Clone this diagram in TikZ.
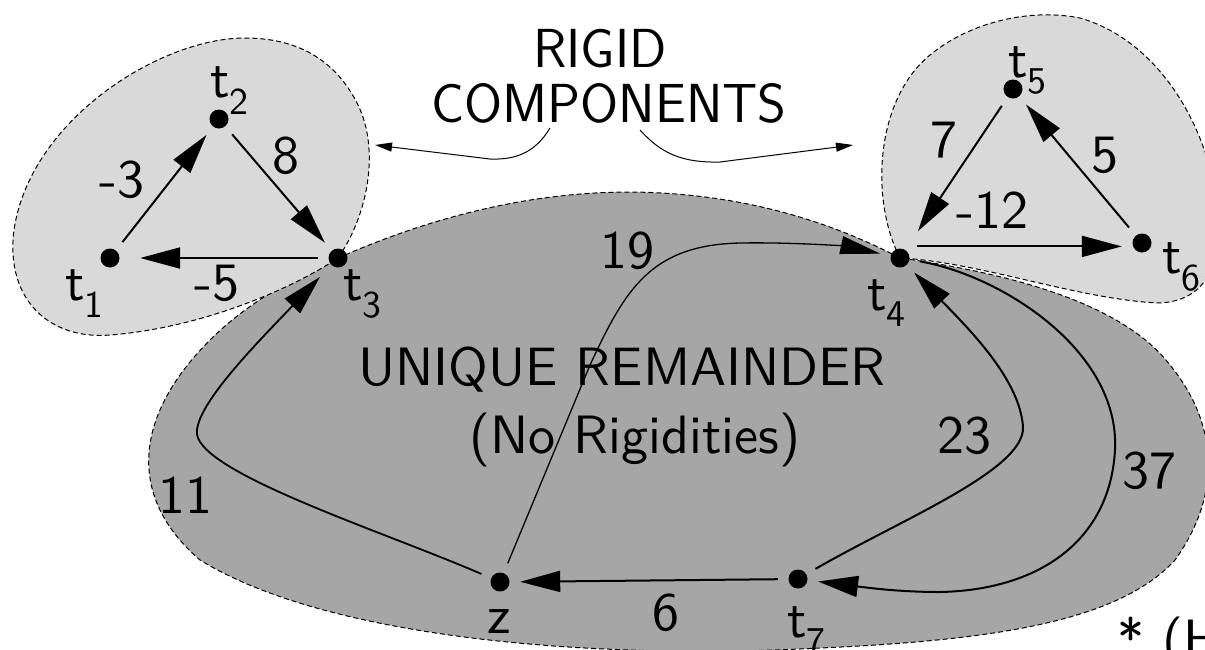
\documentclass[tikz,border=0pt]{standalone}
\usepackage{fontspec}
\setsansfont{lmsans10-regular}[Extension=.otf]
\newfontfamily\captionfont{lmsans17-regular}[Extension=.otf]
\usetikzlibrary{arrows.meta}
\definecolor{lightblob}{RGB}{217,217,217}
\definecolor{darkblob}{RGB}{166,166,166}
\begin{document}
\begin{tikzpicture}[x=1pt,y=-1pt,
  vtx/.style={circle,minimum size=40pt,inner sep=0pt,
    path picture={\fill[black] (path picture bounding box.center) circle (9.5pt);}},
  lbl/.style={inner sep=0pt,anchor=base,font=\sffamily\fontsize{54}{60}\selectfont},
  vlbl/.style={inner sep=0pt,anchor=base west,font=\sffamily\fontsize{54}{60}\selectfont},
  captiontext/.style={inner sep=0pt,anchor=base,font=\captionfont\fontsize{55}{60}\selectfont},
  blob/.style={draw=black,dash pattern=on 5pt off 3pt,line width=1pt},
  edge/.style={line width=2pt,-{Triangle[length=40pt,width=21pt]}},
  thinedge/.style={line width=1.3pt,-{Triangle[length=40pt,width=18pt]}},
  pointer/.style={line width=1pt,-{Triangle[length=17pt,width=9pt]}}
]
\useasboundingbox (0,0) rectangle (1205,649);

% positions of the vertices
\coordinate (p1) at (110,258);
\coordinate (p2) at (219,119);
\coordinate (p3) at (338,258);
\coordinate (p4) at (900,258);
\coordinate (p5) at (1013,89);
\coordinate (p6) at (1142,243);
\coordinate (p7) at (798,579);
\coordinate (pz) at (500,582);

% unique remainder region
\path[blob,fill=darkblob] (p3) .. controls (420,222) and (520,192) .. (630,192)
  .. controls (760,193) and (850,232) .. (p4)
  .. controls (1000,272) and (1120,300) .. (1170,365)
  .. controls (1215,420) and (1225,490) .. (1175,560)
  .. controls (1120,620) and (1000,640) .. (820,648)
  .. controls (600,660) and (330,640) .. (200,560)
  .. controls (130,500) and (130,420) .. (210,340)
  .. controls (250,300) and (300,275) .. (p3);

% rigid component, left
\path[blob,fill=lightblob] (p3) .. controls (368,215) and (380,150) .. (358,105)
  .. controls (335,58) and (295,38) .. (245,38)
  .. controls (160,38) and (30,120) .. (14,230)
  .. controls (5,300) and (50,340) .. (110,335)
  .. controls (200,328) and (290,290) .. (p3);

% rigid component, right
\path[blob,fill=lightblob] (p4) .. controls (870,200) and (875,100) .. (930,55)
  .. controls (970,22) and (1030,8) .. (1080,18)
  .. controls (1150,38) and (1200,110) .. (1215,190)
  .. controls (1225,260) and (1210,300) .. (1160,303)
  .. controls (1080,300) and (980,262) .. (p4);

% vertices
\node[vtx] (t1) at (p1) {};
\node[vtx] (t2) at (p2) {};
\node[vtx] (t3) at (p3) {};
\node[vtx] (t4) at (p4) {};
\node[vtx] (t5) at (p5) {};
\node[vtx] (t6) at (p6) {};
\node[vtx] (t7) at (p7) {};
\node[vtx] (z) at (pz) {};

% vertex labels
\node[vlbl] (l1) at (65,300) {t\textsubscript{1}};
\node[vlbl] (l2) at (210,97) {t\textsubscript{2}};
\node[vlbl] (l3) at (343,300) {t\textsubscript{3}};
\node[vlbl] (l4) at (867,310) {t\textsubscript{4}};
\node[vlbl] (l5) at (1008,77) {t\textsubscript{5}};
\node[vlbl] (l6) at (1162,273) {t\textsubscript{6}};
\node[vlbl] (l7) at (787,637) {t\textsubscript{7}};
\node[lbl] (lz) at (499,633) {z};

% edges
\draw[edge] (t1) -- (t2);
\draw[edge] (t2) -- (t3);
\draw[edge,shorten >=10pt] (t3) -- (t1);
\draw[edge,shorten >=12pt] (t5) -- (t4);
\draw[edge] (t6) -- (t5);
\draw[edge] (t4.35) -- (t4.35 -| t6.west);
\draw[edge] (t7) -- (z);
\draw[edge,line width=1.8pt,shorten >=6pt] (z) .. controls (380,530) and (190,470) .. (197,430)
  .. controls (200,400) and (260,340) .. (t3);
\draw[thinedge] (z) -- (590,365) .. controls (625,290) and (650,245) .. (740,243)
  .. controls (800,242) and (850,247) .. (t4);
\draw[edge] (t7) .. controls (900,520) and (1025,470) .. (1023,427)
  .. controls (1020,380) and (970,330) .. (t4);
\draw[edge] (t4) .. controls (1000,275) and (1120,350) .. (1115,450)
  .. controls (1110,540) and (1040,590) .. (940,592)
  .. controls (900,592) and (870,588) .. (t7);

% edge weights
\node[lbl] (w1) at (122,197) {-3};
\node[lbl] (w2) at (286,173) {8};
\node[lbl] (w3) at (217,300) {-5};
\node[lbl] (w4) at (944,157) {7};
\node[lbl] (w5) at (1105,172) {5};
\node[lbl] (w6) at (992,228) {-12};
\node[lbl] (w7) at (627,268) {19};
\node[lbl] (w8) at (964,453) {23};
\node[lbl] (w9) at (666,630) {6};
\node[lbl] (w10) at (185,513) {11};
\node[lbl] (w11) at (1149,488) {37};

% region captions
\node[captiontext] (rigid) at (600,67) {RIGID};
\node[captiontext] (comp) at (609,122) {COMPONENTS};
\node[lbl] (uniq) at (622,385) {UNIQUE REMAINDER};
\node[lbl] (norig) at (635,453) {(No Rigidities)};
\node[vlbl] (note) at (1117,657) {* (H};

% pointers from the caption
\coordinate (cl) at (550,128);
\coordinate (cr) at (640,130);
\coordinate (al) at (375,145);
\coordinate (ar) at (853,145);
\draw[pointer] (cl) .. controls (535,153) and (515,160) .. (490,159) -- (al);
\draw[pointer] (cr) .. controls (660,152) and (680,163) .. (720,162) -- (ar);
\end{tikzpicture}
\end{document}
